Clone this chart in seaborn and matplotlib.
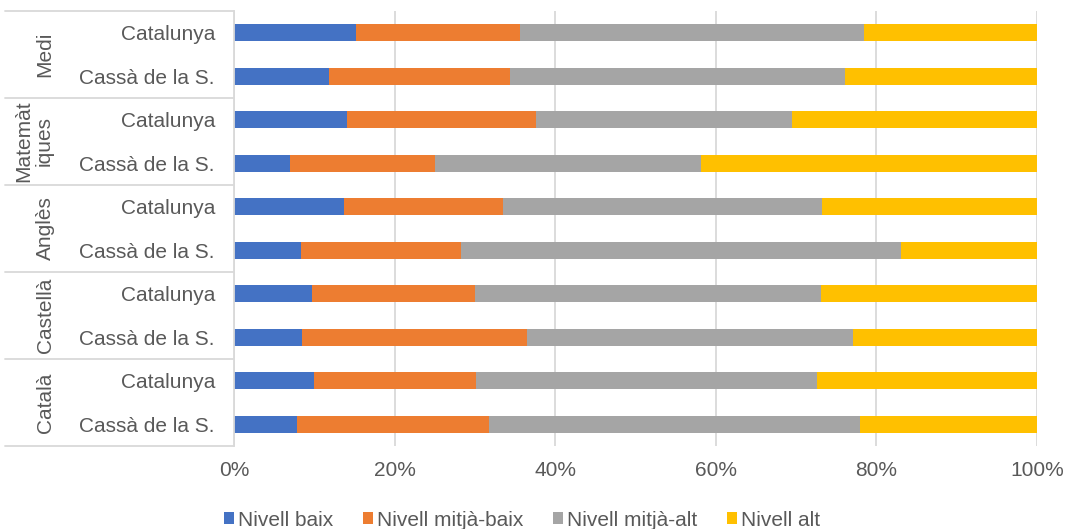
import matplotlib
matplotlib.use("Agg")
import matplotlib.pyplot as plt
import matplotlib.transforms as mtransforms
from matplotlib.patches import Patch
import numpy as np
import pandas as pd
import seaborn as sns

# ---- data (top to bottom) ----
groups = ["Medi", "Matemàt\niques", "Anglès", "Castellà", "Català"]
regions = ["Catalunya", "Cassà de la S."]
series = ["Nivell baix", "Nivell mitjà-baix", "Nivell mitjà-alt", "Nivell alt"]
colors = ["#4472C4", "#ED7D31", "#A5A5A5", "#FFC000"]

nivell_baix = [15.2, 11.8, 14.1, 7.0, 13.7, 8.4, 9.7, 8.5, 10.0, 7.8]
nivell_mitja_baix = [20.4, 22.6, 23.5, 18.0, 19.8, 19.9, 20.3, 28.0, 20.1, 23.9]
nivell_mitja_alt = [42.9, 41.7, 31.9, 33.2, 39.7, 54.8, 43.1, 40.6, 42.5, 46.2]
nivell_alt = [21.5, 23.9, 30.5, 41.8, 26.8, 16.9, 26.9, 22.9, 27.4, 22.1]

xticks = [0, 20, 40, 60, 80, 100]
xticklabels = ["0%", "20%", "40%", "60%", "80%", "100%"]

# ---- build table ----
keys, rowlabels = [], []
for g in groups:
    for r in regions:
        keys.append(f"{g}|{r}")
        rowlabels.append(r)
vals = np.array([nivell_baix, nivell_mitja_baix, nivell_mitja_alt, nivell_alt])
tot = vals.sum(axis=0)
vals = vals / tot * 100
cum = np.cumsum(vals, axis=0)
df = pd.DataFrame({"key": keys})
for i, s in enumerate(series):
    df[s] = cum[i]

TXT = "#595959"
GRID = "#D9D9D9"

sns.set_theme(style="white")
plt.rcParams["font.family"] = ["Liberation Sans", "DejaVu Sans"]

fig = plt.figure(figsize=(10.69, 5.29), dpi=100)
ax = fig.add_axes([234 / 1069, 1 - 446 / 529, (1037 - 234) / 1069, (446 - 11) / 529])

for i in range(len(series) - 1, -1, -1):
    sns.barplot(data=df, x=series[i], y="key", order=keys, orient="h",
                color=colors[i], saturation=1, width=0.4, errorbar=None,
                linewidth=0, ax=ax, zorder=3)

ax.set_xlim(0, 100)
ax.set_ylim(9.5, -0.5)
ax.set_xticks(xticks)
ax.set_xticklabels(xticklabels, color=TXT, fontsize=15)
ax.set_yticks(range(len(keys)))
ax.set_yticklabels(rowlabels, color=TXT, fontsize=15)
ax.tick_params(axis="both", length=0)
ax.tick_params(axis="x", pad=10.5)
ax.tick_params(axis="y", pad=13.7)
ax.set_xlabel("")
ax.set_ylabel("")
ax.grid(axis="x", color=GRID, linewidth=1.3, zorder=0)
ax.set_axisbelow(True)
for side in ["top", "right", "bottom"]:
    ax.spines[side].set_visible(False)
ax.spines["left"].set_color(GRID)
ax.spines["left"].set_linewidth(1.3)
ax.spines["left"].set_zorder(4)

# group separators and labels
trans = mtransforms.blended_transform_factory(ax.transAxes, ax.transData)
ax_w = 1037 - 234
x_left = (5 - 234) / ax_w
for b in [-0.5, 1.5, 3.5, 5.5, 7.5, 9.5]:
    ax.plot([x_left, 0], [b, b], color=GRID, linewidth=1.3, transform=trans,
            clip_on=False)
for gi, g in enumerate(groups):
    yc = gi * 2 + 0.5
    xpx = 45 if "\n" not in g else 34
    ax.text((xpx - 234) / ax_w, yc, g, rotation=90, ha="center", va="center",
            color=TXT, fontsize=15, transform=trans, linespacing=1.05,
            multialignment="center")

handles = [Patch(facecolor=c, edgecolor="none") for c in colors]
fig.legend(handles, series, loc="center", bbox_to_anchor=(522 / 1069, 1 - 520 / 529),
           ncol=4, frameon=False, fontsize=15, handlelength=0.5, handleheight=0.5,
           handletextpad=0.2, columnspacing=1.4, labelcolor=TXT)

fig.savefig("out.png", dpi=100)
